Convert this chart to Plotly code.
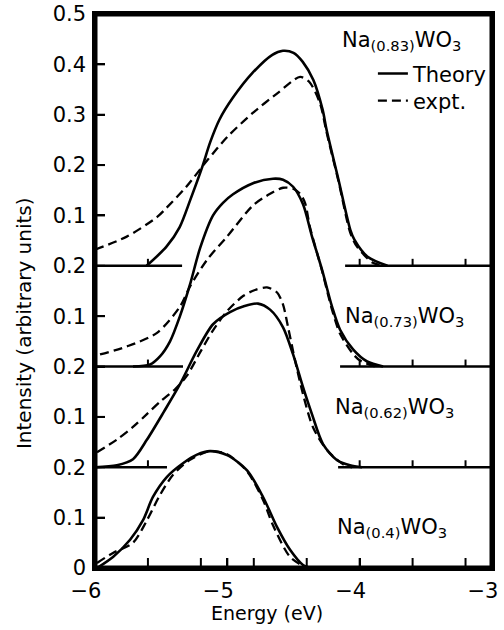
import plotly.graph_objects as go

# ---------------- data (local intensity of each panel, arbitrary units) ----------------
offsets = [0.6, 0.4, 0.2, 0.0]
labels = ["Na<sub>(0.83)</sub>WO<sub>3</sub>", "Na<sub>(0.73)</sub>WO<sub>3</sub>",
          "Na<sub>(0.62)</sub>WO<sub>3</sub>", "Na<sub>(0.4)</sub>WO<sub>3</sub>"]

E_th83 = [-5.61, -5.46, -5.36, -5.28, -5.19, -5.13, -5.06, -4.96, -4.81, -4.66, -4.58, -4.50,
          -4.43, -4.35, -4.28, -4.25, -4.16, -4.07, -4.04, -3.94, -3.79]
I_th83 = [0.0, 0.038, 0.077, 0.131, 0.196, 0.245, 0.29, 0.333, 0.383, 0.419, 0.427, 0.423,
          0.405, 0.369, 0.31, 0.27, 0.171, 0.071, 0.052, 0.018, 0.0]
E_ex83 = [-6.0, -5.76, -5.53, -5.46, -5.31, -5.15, -5.0, -4.81, -4.62, -4.45, -4.38, -4.30,
          -4.25, -4.16, -4.07, -4.02, -3.90, -3.81]
I_ex83 = [0.032, 0.058, 0.097, 0.115, 0.157, 0.21, 0.256, 0.303, 0.343, 0.375, 0.365, 0.323,
          0.265, 0.168, 0.065, 0.038, 0.006, 0.0]

E_th73 = [-5.713, -5.584, -5.509, -5.433, -5.358, -5.282, -5.206, -5.108, -5.033, -4.957, -4.806,
          -4.655, -4.579, -4.503, -4.428, -4.360, -4.284, -4.209, -4.148, -4.050, -3.944, -3.823]
I_th73 = [0.0, 0.004, 0.02, 0.05, 0.10, 0.163, 0.235, 0.30, 0.325, 0.342, 0.364,
          0.373, 0.371, 0.357, 0.322, 0.258, 0.192, 0.119, 0.073, 0.034, 0.01, 0.0]
E_ex73 = [-5.962, -5.758, -5.531, -5.358, -5.282, -5.153, -5.002, -4.806, -4.677, -4.579, -4.503,
          -4.450, -4.413, -4.375, -4.284, -4.209, -4.148, -4.050, -3.997, -3.884]
I_ex73 = [0.024, 0.04, 0.067, 0.119, 0.159, 0.212, 0.258, 0.32, 0.343, 0.355, 0.353,
          0.343, 0.325, 0.276, 0.19, 0.113, 0.065, 0.025, 0.012, 0.0]

E_th62 = [-6.0, -5.834, -5.713, -5.607, -5.48, -5.358, -5.229, -5.108, -4.980, -4.87, -4.768,
          -4.677, -4.579, -4.503, -4.428, -4.360, -4.277, -4.171, -4.073, -3.982]
I_th62 = [0.0, 0.004, 0.016, 0.055, 0.11, 0.165, 0.232, 0.284, 0.308, 0.32, 0.325,
          0.313, 0.278, 0.224, 0.159, 0.105, 0.046, 0.014, 0.004, 0.0]
E_ex62 = [-5.985, -5.834, -5.713, -5.610, -5.509, -5.395, -5.305, -5.206, -5.108, -5.002, -4.881,
          -4.791, -4.700, -4.624, -4.579, -4.541, -4.488, -4.428, -4.352, -4.246, -4.125, -4.057]
I_ex62 = [0.03, 0.055, 0.08, 0.105, 0.13, 0.155, 0.182, 0.228, 0.272, 0.31, 0.34,
          0.352, 0.357, 0.347, 0.323, 0.278, 0.212, 0.145, 0.079, 0.034, 0.006, 0.0]

E_th40 = [-5.985, -5.864, -5.735, -5.637, -5.562, -5.456, -5.335, -5.229, -5.131, -5.002, -4.851,
          -4.730, -4.624, -4.526, -4.428, -4.360]
I_th40 = [0.0, 0.022, 0.056, 0.095, 0.141, 0.181, 0.208, 0.225, 0.232, 0.224, 0.194,
          0.141, 0.081, 0.036, 0.006, 0.0]
E_ex40 = [-5.985, -5.864, -5.713, -5.607, -5.509, -5.410, -5.282, -5.131, -5.002, -4.851, -4.730,
          -4.655, -4.526, -4.398]
I_ex40 = [0.01, 0.03, 0.05, 0.095, 0.145, 0.185, 0.215, 0.232, 0.226, 0.192, 0.135,
          0.085, 0.022, 0.0]

theory = [(E_th83, I_th83), (E_th73, I_th73), (E_th62, I_th62), (E_th40, I_th40)]
expt = [(E_ex83, I_ex83), (E_ex73, I_ex73), (E_ex62, I_ex62), (E_ex40, I_ex40)]

x_tickvals = [-6, -5, -4, -3]
x_ticktext = ["\u22126", "\u22125", "\u22124", "\u22123"]
x_minor_tickvals = [-5.6, -5.2, -4.8, -4.4, -3.6, -3.2]
y_tickvals = [0, 0.1, 0.2, 0.3, 0.4, 0.5, 0.6, 0.7, 0.8, 0.9, 1.0, 1.1]
y_ticktext = ["0", "0.1", "0.2", "0.1", "0.2", "0.1", "0.2", "0.1", "0.2", "0.3", "0.4", "0.5"]
baseline_tickvals = [-5.6, -4, -3.6, -3.2]

# ---------------- styling ----------------
FONT = "DejaVu Sans"
BLACK = "black"
LW = 2.6
Y_MAX = 1.1
X_MIN, X_MAX = -6, -3

fig = go.Figure()
for i, off in enumerate(offsets):
    (et, it), (ee, ie) = theory[i], expt[i]
    fig.add_trace(go.Scatter(x=et, y=[v + off for v in it], mode="lines",
                             line=dict(color=BLACK, width=LW, shape="spline", smoothing=0.8),
                             name="Theory", showlegend=(i == 0), legend="legend",
                             hoverinfo="skip"))
    fig.add_trace(go.Scatter(x=ee, y=[v + off for v in ie], mode="lines",
                             line=dict(color=BLACK, width=2.3, dash="9px,5px",
                                       shape="spline", smoothing=0.8),
                             name="expt.", showlegend=(i == 0), legend="legend2",
                             hoverinfo="skip"))

# plot frame: paper-referenced sides plus a data-referenced box (clipped to the plot area)
frame = dict(color=BLACK, width=2.5)
shapes = [
    dict(type="line", xref="paper", yref="paper", x0=0, x1=1, y0=1, y1=1, line=frame),
    dict(type="line", xref="paper", yref="paper", x0=1, x1=1, y0=0, y1=1, line=frame),
    dict(type="rect", xref="x", yref="y", x0=X_MIN, x1=X_MAX, y0=0, y1=Y_MAX,
         line=dict(color=BLACK, width=5), fillcolor="rgba(0,0,0,0)"),
]

# baseline segments of the stacked panels (gaps where curves pass)
segments = {0.6: (-5.342, -4.110), 0.4: (-5.335, -4.148), 0.2: (-5.456, -4.163)}
for yb, (lend, rstart) in segments.items():
    shapes.append(dict(type="line", xref="x", yref="y", x0=X_MIN, x1=lend, y0=yb, y1=yb,
                       line=dict(color=BLACK, width=2.4)))
    shapes.append(dict(type="line", xref="x", yref="y", x0=rstart, x1=X_MAX, y0=yb, y1=yb,
                       line=dict(color=BLACK, width=2.4)))
    # small upward tick marks on each baseline
    for xv in baseline_tickvals:
        shapes.append(dict(type="line", xref="x", yref="y", ysizemode="pixel", yanchor=yb,
                           x0=xv, x1=xv, y0=0, y1=7, line=dict(color=BLACK, width=2)))

# tick marks on the energy axis (inside, pointing up)
for xv in x_minor_tickvals + [-5, -4]:
    shapes.append(dict(type="line", xref="x", yref="y", ysizemode="pixel", yanchor=0,
                       x0=xv, x1=xv, y0=0, y1=10, line=dict(color=BLACK, width=2)))
# tick marks on the intensity axis (inside, pointing right)
for yv in y_tickvals[1:-1]:
    shapes.append(dict(type="line", xref="x", yref="y", xsizemode="pixel", xanchor=X_MIN,
                       x0=0, x1=10, y0=yv, y1=yv, line=dict(color=BLACK, width=2)))

annotations = []
label_pos = [(-4.148, 1.046), (-4.125, 0.498), (-4.201, 0.317), (-4.186, 0.079)]
for lab, (lx, ly) in zip(labels, label_pos):
    annotations.append(dict(text=lab, x=lx, y=ly, xref="x", yref="y", xanchor="left",
                            yanchor="middle", showarrow=False,
                            font=dict(family=FONT, size=21, color=BLACK)))
annotations.append(dict(text="Energy (eV)", x=0.433, y=-0.082, xref="paper", yref="paper",
                        xanchor="center", yanchor="middle", showarrow=False,
                        font=dict(family=FONT, size=19, color=BLACK)))
annotations.append(dict(text="Intensity (arbitrary units)", x=-0.179, y=0.442,
                        xref="paper", yref="paper", xanchor="center", yanchor="middle",
                        textangle=-90, showarrow=False,
                        font=dict(family=FONT, size=20, color=BLACK)))

legend_common = dict(xanchor="left", yanchor="middle", bgcolor="rgba(0,0,0,0)",
                     font=dict(family=FONT, size=21, color=BLACK), itemwidth=30,
                     borderwidth=0)

fig.update_layout(
    template="none",
    width=504, height=630,
    margin=dict(l=95, r=12, t=14, b=62, autoexpand=False),
    paper_bgcolor="white", plot_bgcolor="white",
    font=dict(family=FONT, size=21, color=BLACK),
    showlegend=True,
    legend=dict(x=0.70, y=0.892, **legend_common),
    legend2=dict(x=0.70, y=0.843, **legend_common),
    xaxis=dict(range=[X_MIN, X_MAX], tickmode="array", tickvals=x_tickvals, ticktext=x_ticktext,
               ticks="inside", ticklen=10, tickwidth=2, tickcolor=BLACK,
               showline=True, linewidth=2.5, linecolor=BLACK, mirror=True,
               showgrid=False, zeroline=False, ticklabelstandoff=2, automargin=False,
               ticklabelshift=-9,
               tickfont=dict(family=FONT, size=21, color=BLACK)),
    yaxis=dict(range=[0, Y_MAX], tickmode="array", tickvals=y_tickvals, ticktext=y_ticktext,
               ticks="inside", ticklen=10, tickwidth=2, tickcolor=BLACK,
               showline=True, linewidth=2.5, linecolor=BLACK, mirror=True,
               showgrid=False, zeroline=False, ticklabelstandoff=2, automargin=False,
               tickfont=dict(family=FONT, size=21, color=BLACK)),
    shapes=shapes,
    annotations=annotations,
)

fig.write_html("out.html", config={"displayModeBar": False},
               post_script="document.body.style.margin='0px';")
